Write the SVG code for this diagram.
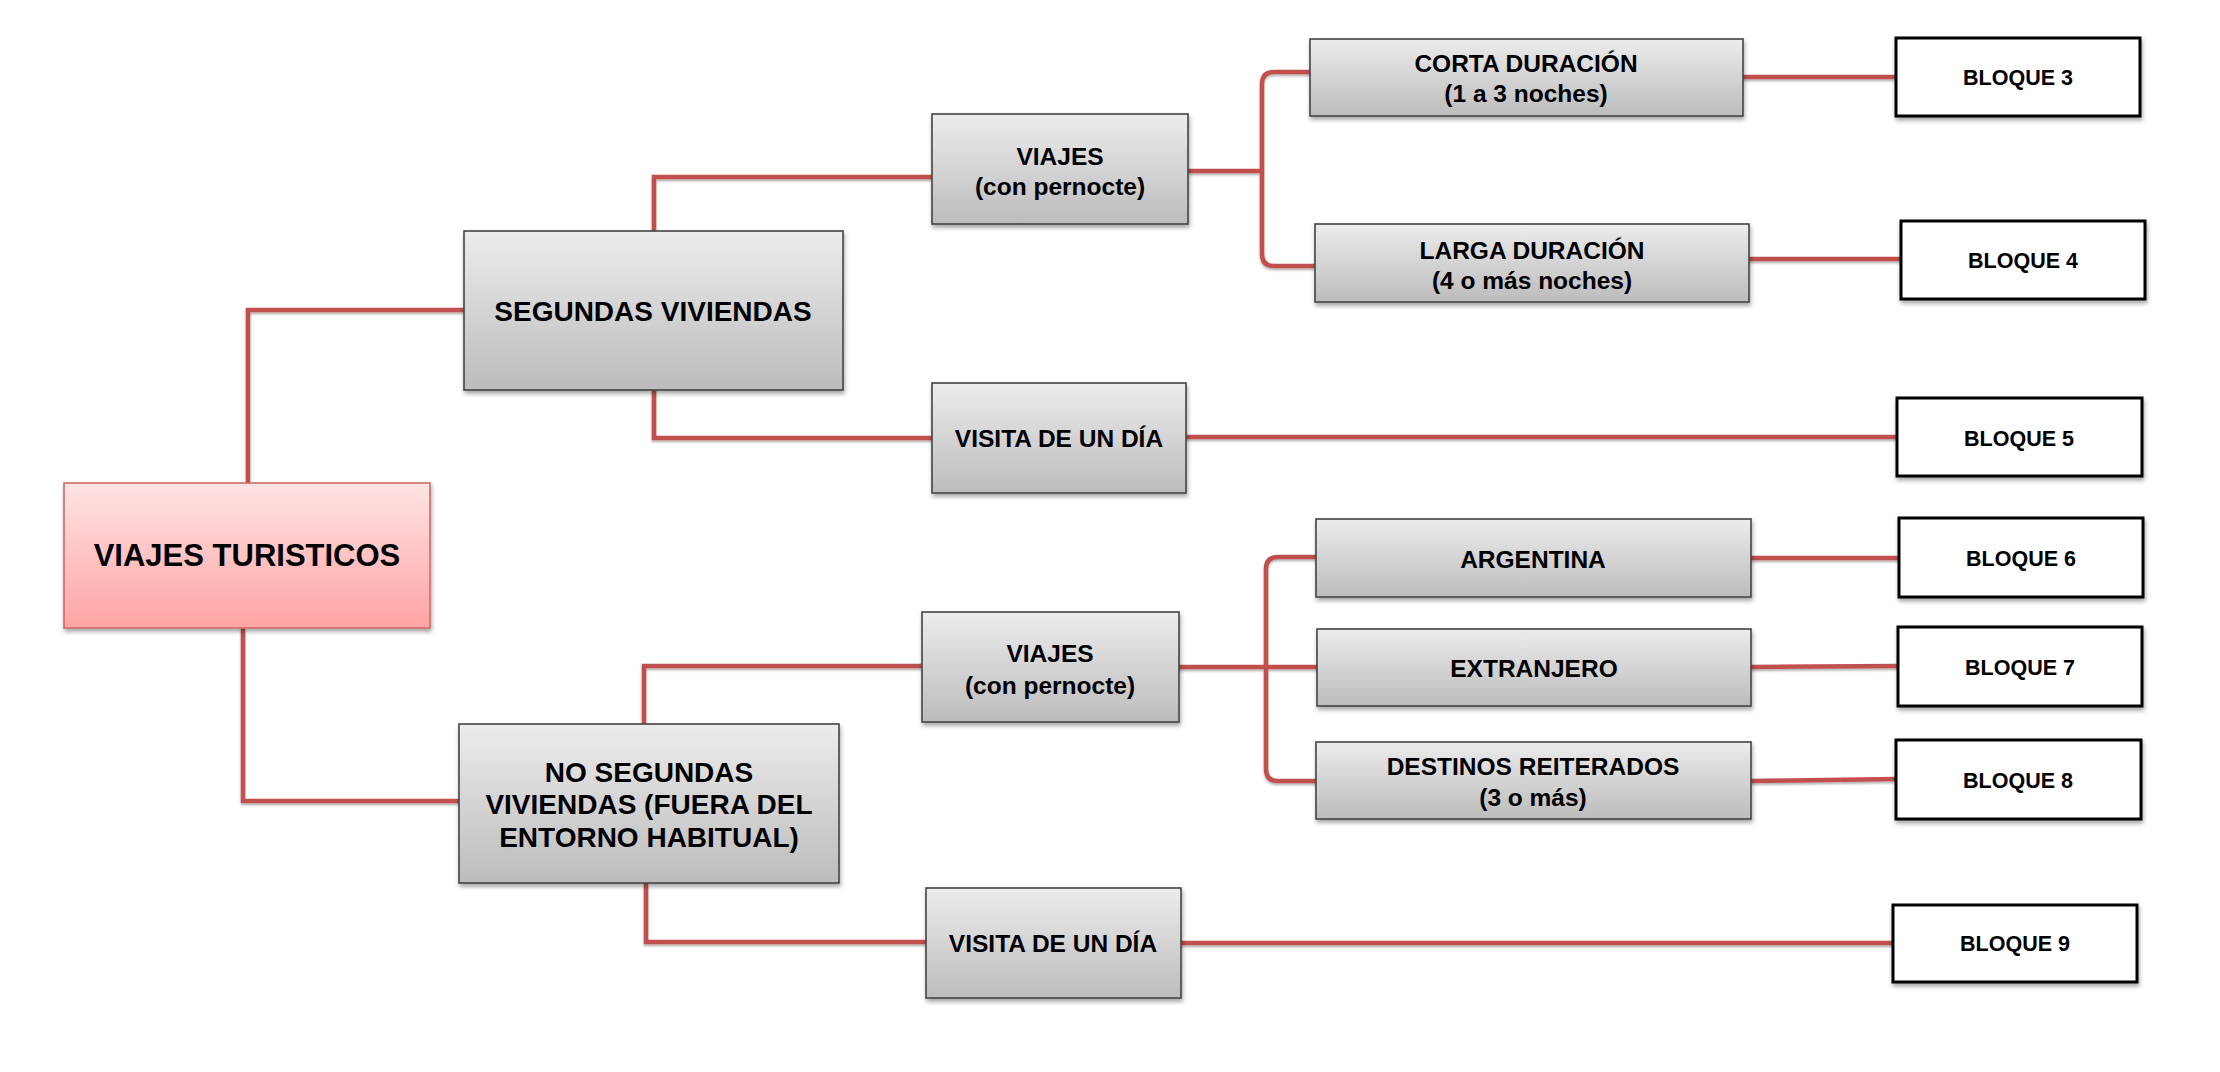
<svg xmlns="http://www.w3.org/2000/svg" width="2220" height="1072" viewBox="0 0 2220 1072">
<defs>
<linearGradient id="gGray" x1="0" y1="0" x2="0" y2="1">
<stop offset="0" stop-color="#ececec"/>
<stop offset="1" stop-color="#bcbcbc"/>
</linearGradient>
<linearGradient id="gPink" x1="0" y1="0" x2="0" y2="1">
<stop offset="0" stop-color="#ffe4e4"/>
<stop offset="1" stop-color="#ffa3a3"/>
</linearGradient>
<filter id="sh" x="-10%" y="-10%" width="120%" height="130%">
<feDropShadow dx="1" dy="3" stdDeviation="2" flood-color="#000" flood-opacity="0.35"/>
</filter>
<filter id="lsh" x="-5%" y="-50%" width="110%" height="200%">
<feDropShadow dx="0" dy="2" stdDeviation="1.2" flood-color="#000" flood-opacity="0.3"/>
</filter>
</defs>
<style>
.gray{fill:url(#gGray);stroke:#444;stroke-width:1.6}
.pink{fill:url(#gPink);stroke:#cc6b6b;stroke-width:1.6}
.blq{fill:#fff;stroke:#000;stroke-width:3}
.conn path{fill:none;stroke:#c0504d;stroke-width:4.5}
text{font-family:"Liberation Sans",Arial,sans-serif;font-weight:bold;fill:#000;text-anchor:middle}
.t24{font-size:24.5px}
.t28{font-size:28px}
.t31{font-size:31px}
.t21{font-size:21.5px}
</style>
<rect width="2220" height="1072" fill="#fff"/>
<g id="connectors" class="conn" filter="url(#lsh)">
<path d="M248,483 V310 H464"/>
<path d="M243,628 V801 H459"/>
<path d="M654,231 V177 H932"/>
<path d="M654,390 V438 H932"/>
<path d="M1188,171 H1262"/>
<path d="M1310,72 H1274 Q1262,72 1262,84 V254 Q1262,266 1274,266 H1315"/>
<path d="M1743,77 H1896"/>
<path d="M1749,259 H1901"/>
<path d="M1186,437 H1897"/>
<path d="M644,724 V666 H922"/>
<path d="M646,883 V942 H926"/>
<path d="M1179,667 H1317"/>
<path d="M1316,557 H1278 Q1266,557 1266,569 V769 Q1266,781 1278,781 H1316"/>
<path d="M1751,558 H1899"/>
<path d="M1751,667 L1898,666"/>
<path d="M1751,781 L1896,779"/>
<path d="M1181,943 H1893"/>
</g>
<g id="root">
<rect class="pink" x="64" y="483" width="366" height="145" filter="url(#sh)"/>
<text class="t31" x="247" y="566">VIAJES TURISTICOS</text>
</g>
<g id="segundas">
<rect class="gray" x="464" y="231" width="379" height="159" filter="url(#sh)"/>
<text class="t28" x="653" y="321">SEGUNDAS VIVIENDAS</text>
</g>
<g id="viajes1">
<rect class="gray" x="932" y="114" width="256" height="110" filter="url(#sh)"/>
<text class="t24" x="1060" y="165">VIAJES</text>
<text class="t24" x="1060" y="195">(con pernocte)</text>
</g>
<g id="visita1">
<rect class="gray" x="932" y="383" width="254" height="110" filter="url(#sh)"/>
<text class="t24" x="1059" y="447">VISITA DE UN DÍA</text>
</g>
<g id="corta">
<rect class="gray" x="1310" y="39" width="433" height="77" filter="url(#sh)"/>
<text class="t24" x="1526" y="72">CORTA DURACIÓN</text>
<text class="t24" x="1526" y="102">(1 a 3 noches)</text>
</g>
<g id="larga">
<rect class="gray" x="1315" y="224" width="434" height="78" filter="url(#sh)"/>
<text class="t24" x="1532" y="259">LARGA DURACIÓN</text>
<text class="t24" x="1532" y="289">(4 o más noches)</text>
</g>
<g id="bloque3">
<rect class="blq" x="1896" y="38" width="244" height="78" filter="url(#sh)"/>
<text class="t21" x="2018" y="85">BLOQUE 3</text>
</g>
<g id="bloque4">
<rect class="blq" x="1901" y="221" width="244" height="78" filter="url(#sh)"/>
<text class="t21" x="2023" y="268">BLOQUE 4</text>
</g>
<g id="bloque5">
<rect class="blq" x="1897" y="398" width="245" height="78" filter="url(#sh)"/>
<text class="t21" x="2019" y="446">BLOQUE 5</text>
</g>
<g id="nosegundas">
<rect class="gray" x="459" y="724" width="380" height="159" filter="url(#sh)"/>
<text class="t28" x="649" y="782">NO SEGUNDAS</text>
<text class="t28" x="649" y="814">VIVIENDAS (FUERA DEL</text>
<text class="t28" x="649" y="847">ENTORNO HABITUAL)</text>
</g>
<g id="viajes2">
<rect class="gray" x="922" y="612" width="257" height="110" filter="url(#sh)"/>
<text class="t24" x="1050" y="662">VIAJES</text>
<text class="t24" x="1050" y="694">(con pernocte)</text>
</g>
<g id="visita2">
<rect class="gray" x="926" y="888" width="255" height="110" filter="url(#sh)"/>
<text class="t24" x="1053" y="952">VISITA DE UN DÍA</text>
</g>
<g id="argentina">
<rect class="gray" x="1316" y="519" width="435" height="78" filter="url(#sh)"/>
<text class="t24" x="1533" y="568">ARGENTINA</text>
</g>
<g id="extranjero">
<rect class="gray" x="1317" y="629" width="434" height="77" filter="url(#sh)"/>
<text class="t24" x="1534" y="677">EXTRANJERO</text>
</g>
<g id="destinos">
<rect class="gray" x="1316" y="742" width="435" height="77" filter="url(#sh)"/>
<text class="t24" x="1533" y="775">DESTINOS REITERADOS</text>
<text class="t24" x="1533" y="806">(3 o más)</text>
</g>
<g id="bloque6">
<rect class="blq" x="1899" y="518" width="244" height="79" filter="url(#sh)"/>
<text class="t21" x="2021" y="566">BLOQUE 6</text>
</g>
<g id="bloque7">
<rect class="blq" x="1898" y="627" width="244" height="79" filter="url(#sh)"/>
<text class="t21" x="2020" y="675">BLOQUE 7</text>
</g>
<g id="bloque8">
<rect class="blq" x="1896" y="740" width="245" height="79" filter="url(#sh)"/>
<text class="t21" x="2018" y="788">BLOQUE 8</text>
</g>
<g id="bloque9">
<rect class="blq" x="1893" y="905" width="244" height="77" filter="url(#sh)"/>
<text class="t21" x="2015" y="951">BLOQUE 9</text>
</g>
</svg>
